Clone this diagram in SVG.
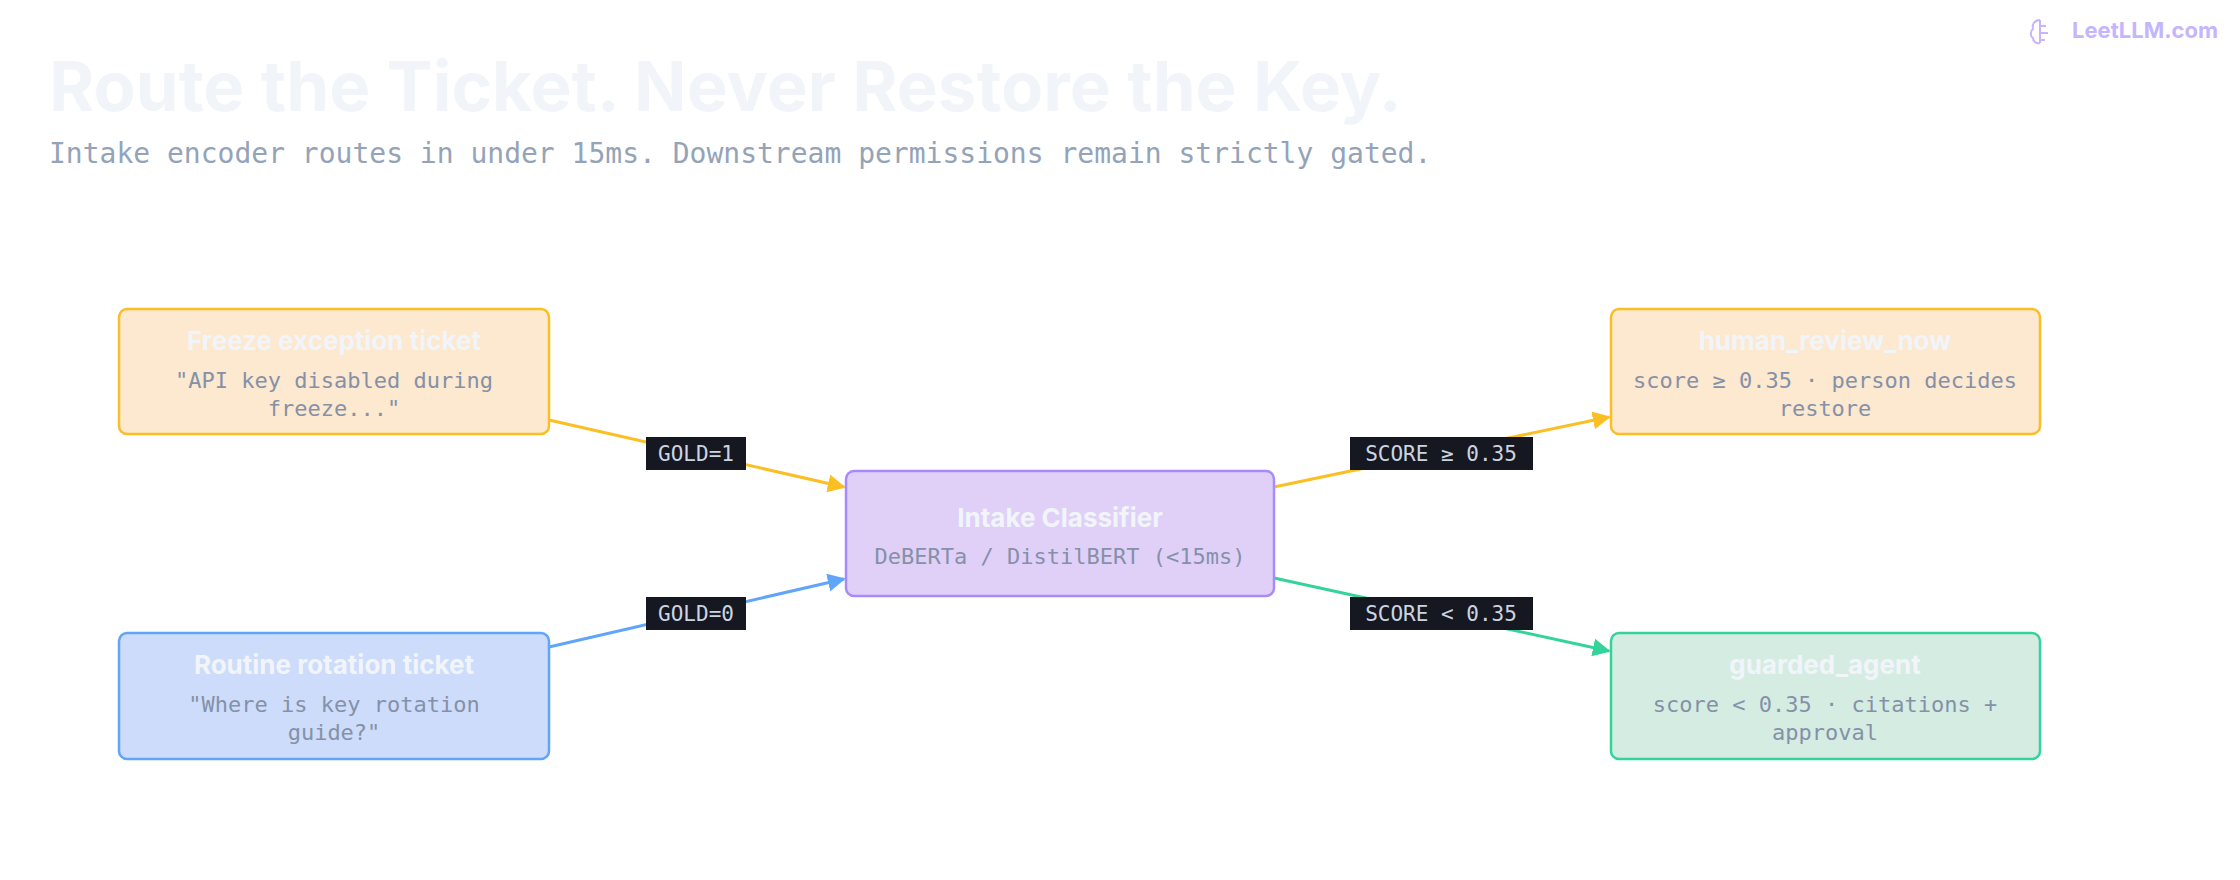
<svg xmlns="http://www.w3.org/2000/svg" width="2240" height="880" viewBox="0 0 2240 880">
<defs>
<style>
.t{font-family:Inter,"Liberation Sans",sans-serif;font-weight:700;fill:#f1f5f9;text-anchor:middle;font-size:26px}
.s{font-family:"DejaVu Sans Mono","Liberation Mono",monospace;fill:#8491a8;text-anchor:middle;font-size:22px}
.l{font-family:"DejaVu Sans Mono","Liberation Mono",monospace;fill:#cbd5e1;text-anchor:middle;font-size:21px}
.lb{fill:#161821}
.e{fill:none;stroke-width:3}
</style>
<marker id="my" viewBox="0 0 10 10" refX="9" refY="5" markerWidth="6" markerHeight="6" orient="auto" markerUnits="strokeWidth"><path d="M0,0L10,5L0,10z" fill="#fbbf24"/></marker>
<marker id="mb" viewBox="0 0 10 10" refX="9" refY="5" markerWidth="6" markerHeight="6" orient="auto" markerUnits="strokeWidth"><path d="M0,0L10,5L0,10z" fill="#60a5fa"/></marker>
<marker id="mg" viewBox="0 0 10 10" refX="9" refY="5" markerWidth="6" markerHeight="6" orient="auto" markerUnits="strokeWidth"><path d="M0,0L10,5L0,10z" fill="#34d399"/></marker>
</defs>
<rect width="2240" height="880" fill="#ffffff"/>
<text x="49" y="111" font-family="Inter,'Liberation Sans',sans-serif" font-weight="700" font-size="69" fill="#f1f5f9">Route the Ticket. Never Restore the Key.</text>
<text x="49" y="163" font-family="'DejaVu Sans Mono','Liberation Mono',monospace" font-size="28" fill="#94a3b8">Intake encoder routes in under 15ms. Downstream permissions remain strictly gated.</text>
<g id="logo">
<path d="M2040,20c-6,0-8,5-7,9c-3,2-3,7,0,9c0,4,4,6,7,5M2040,20v23M2040,26h6M2040,33h8M2040,40h5" fill="none" stroke="#c4b5fd" stroke-width="2"/>
<text x="2218" y="38" text-anchor="end" font-family="Inter,'Liberation Sans',sans-serif" font-weight="700" font-size="22" fill="#c4b5fd">LeetLLM.com</text>
</g>
<g id="connectors">
<line class="e" x1="549" y1="420" x2="844" y2="487" stroke="#fbbf24" marker-end="url(#my)"/>
<line class="e" x1="549" y1="647" x2="844" y2="579" stroke="#60a5fa" marker-end="url(#mb)"/>
<line class="e" x1="1274" y1="487" x2="1609" y2="417" stroke="#fbbf24" marker-end="url(#my)"/>
<line class="e" x1="1274" y1="578" x2="1609" y2="651" stroke="#34d399" marker-end="url(#mg)"/>
<rect class="lb" x="646" y="437" width="100" height="33"/><text class="l" x="696" y="461">GOLD=1</text>
<rect class="lb" x="646" y="597" width="100" height="33"/><text class="l" x="696" y="621">GOLD=0</text>
<rect class="lb" x="1350" y="437" width="183" height="33"/><text class="l" x="1441" y="461">SCORE ≥ 0.35</text>
<rect class="lb" x="1350" y="597" width="183" height="33"/><text class="l" x="1441" y="621">SCORE &lt; 0.35</text>
</g>
<g id="freeze">
<rect x="119" y="309" width="430" height="125" rx="8" fill="#fde8d0" stroke="#fbbf24" stroke-width="2.5"/>
<text class="t" x="334" y="350">Freeze exception ticket</text>
<text class="s" x="334" y="388">"API key disabled during</text>
<text class="s" x="334" y="416">freeze..."</text>
</g>
<g id="routine">
<rect x="119" y="633" width="430" height="126" rx="8" fill="#cddcfa" stroke="#60a5fa" stroke-width="2.5"/>
<text class="t" x="334" y="674">Routine rotation ticket</text>
<text class="s" x="334" y="712">"Where is key rotation</text>
<text class="s" x="334" y="740">guide?"</text>
</g>
<g id="intake">
<rect x="846" y="471" width="428" height="125" rx="8" fill="#e0d0f8" stroke="#a78bfa" stroke-width="2.5"/>
<text class="t" x="1060" y="527">Intake Classifier</text>
<text class="s" x="1060" y="564">DeBERTa / DistilBERT (&lt;15ms)</text>
</g>
<g id="human">
<rect x="1611" y="309" width="429" height="125" rx="8" fill="#fde8d0" stroke="#fbbf24" stroke-width="2.5"/>
<text class="t" x="1825" y="350">human_review_now</text>
<text class="s" x="1825" y="388">score ≥ 0.35 · person decides</text>
<text class="s" x="1825" y="416">restore</text>
</g>
<g id="guarded">
<rect x="1611" y="633" width="429" height="126" rx="8" fill="#d5ece3" stroke="#34d399" stroke-width="2.5"/>
<text class="t" x="1825" y="674">guarded_agent</text>
<text class="s" x="1825" y="712">score &lt; 0.35 · citations +</text>
<text class="s" x="1825" y="740">approval</text>
</g>
</svg>
